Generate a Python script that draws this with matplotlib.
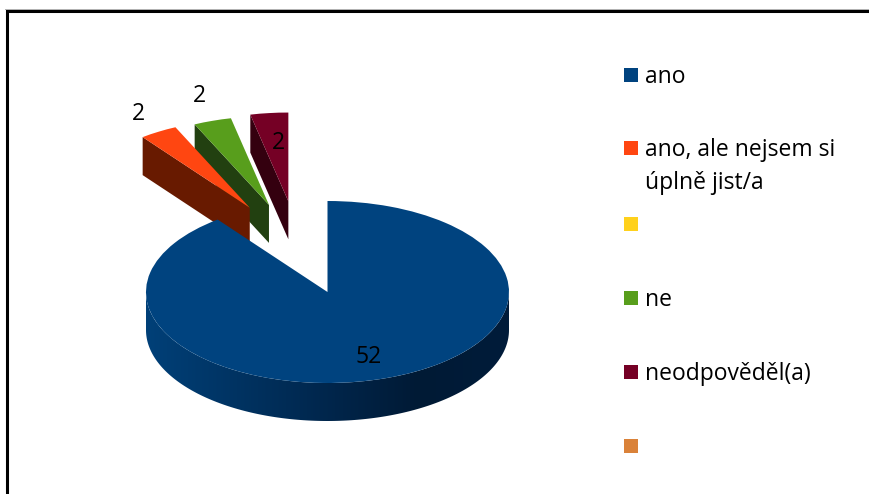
import matplotlib
matplotlib.use("Agg")
import matplotlib.pyplot as plt
import numpy as np
from matplotlib.colors import LinearSegmentedColormap
from matplotlib.patches import Polygon, Rectangle

W, H = 869, 494

categories = ['ano', 'ano, ale nejsem si\núplně jist/a', '', 'ne', 'neodpověděl(a)', '']
values = [52, 2, 0, 2, 2, 0]
colors = ['#00437f', '#ff4611', '#ffd11c', '#589e1c', '#750025', '#da8239']
wall_colors = [None, '#681a00', None, '#224010', '#34000f', None]
explode = [0, 1.02, 0, 1.01, 1.02, 0]
# the exploded slices do not move quite along their middle angle
explode_turn = [0, -6.2, 0, 0, 6.0, 0]
slice_order = [4, 3, 1, 0]

# pixel positions of the labels, in the order of the drawn slices
label_pos = [(369, 357), (138, 114), None, (199, 96), (278, 143), None]
legend_y = [75, 148, 224, 298, 372, 446]

cx, cy, rx, ry, depth = 327.5, 292.0, 181.5, 91.0, 38.0
d = depth / ry
small_radius = 0.975

fig = plt.figure(figsize=(W / 100, H / 100), dpi=100, facecolor='white')

# pie axes: one data unit is one radius, so aspect auto gives the ellipse
ax = fig.add_axes([0, 0, 1, 1])
wedges, _ = ax.pie(values, explode=explode, startangle=90, counterclock=False,
                   colors=colors, radius=1, wedgeprops={'linewidth': 0})
ax.set_aspect('auto')

for i, z in zip(slice_order, [2, 4, 6, 9]):
    w = wedges[i]
    w.set_zorder(z + 1)
    if explode[i] == 0:
        continue
    mid = np.radians((w.theta1 + w.theta2) / 2 + explode_turn[i])
    center = (explode[i] * np.cos(mid), explode[i] * np.sin(mid))
    w.set_center(center)
    w.set_radius(small_radius)
    edge = np.radians(w.theta2)
    ex = center[0] + small_radius * np.cos(edge)
    ey = center[1] + small_radius * np.sin(edge)
    ax.add_patch(Polygon([center, (ex, ey), (ex, ey - d), (center[0], center[1] - d)],
                         closed=True, facecolor=wall_colors[i], linewidth=0, zorder=z))

# front wall of the big slice with its left to right shading
t = np.linspace(np.pi, 2 * np.pi, 200)
wall = np.column_stack([np.r_[np.cos(t), np.cos(t[::-1])],
                        np.r_[np.sin(t), np.sin(t[::-1]) - d]])
shade = LinearSegmentedColormap.from_list(
    'wall', [(0, '#004078'), (0.5, '#00264c'), (0.75, '#001a35'), (1, '#001c3a')])
img = ax.imshow(np.linspace(0, 1, 256).reshape(1, -1), cmap=shade, aspect='auto',
                extent=(-1, 1, -1 - d, 0), zorder=8)
img.set_clip_path(Polygon(wall, closed=True, transform=ax.transData))

ax.set_xlim(-cx / rx, (W - cx) / rx)
ax.set_ylim((cy - H) / ry, cy / ry)
ax.axis('off')

# overlay in pixels for frame, labels and legend
px = fig.add_axes([0, 0, 1, 1])
px.set_xlim(0, W)
px.set_ylim(H, 0)
px.axis('off')
px.patch.set_alpha(0)

px.plot([6.5, 6.5, W], [H, 10.8, 10.8], color='black', lw=2.2, solid_joinstyle='miter')
px.plot([5, W], [9.2, 9.2], color='#b0b0b0', lw=0.7)

font = 'Open Sans'
fs = 16.5
for v, pos in zip(values, label_pos):
    if pos is not None:
        px.text(pos[0], pos[1], str(v), ha='center', va='center', family=font,
                fontsize=fs, color='black')

for name, c, y in zip(categories, colors, legend_y):
    px.add_patch(Rectangle((624, y - 7), 14, 14, facecolor=c, linewidth=0))
    if name:
        px.text(645, y - 10, name, ha='left', va='top', family=font, fontsize=fs,
                color='black', linespacing=1.5)

fig.savefig('out.png', dpi=100)
